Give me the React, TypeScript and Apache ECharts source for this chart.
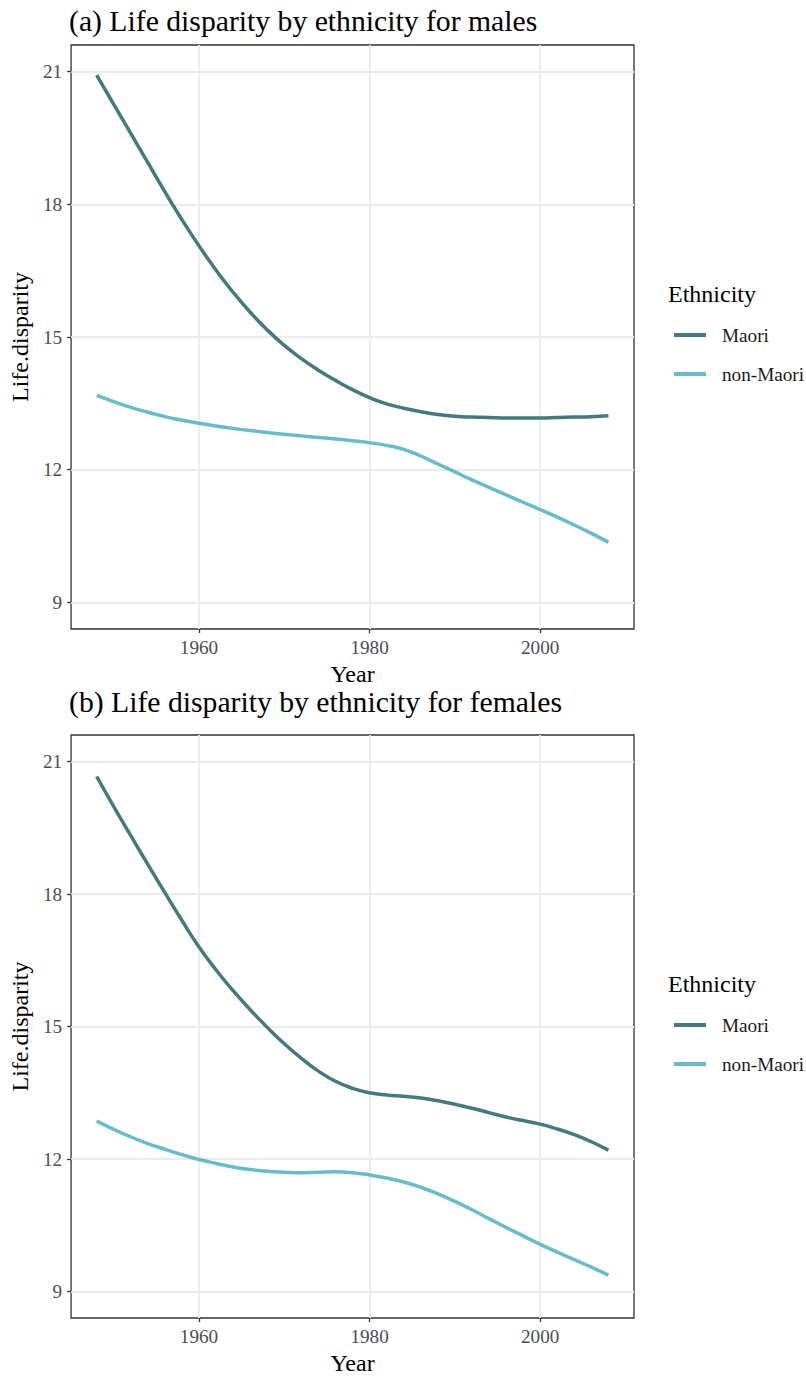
import React, { useEffect, useRef } from "react";
import * as echarts from "echarts";

const years = [
  1948, 1950, 1952, 1954, 1956, 1958, 1960, 1962, 1964, 1966, 1968, 1970, 1972, 1974, 1976, 1978,
  1980, 1982, 1984, 1986, 1988, 1990, 1992, 1994, 1996, 1998, 2000, 2002, 2004, 2006, 2008,
];

const malesMaori = [
  20.92, 20.26, 19.6, 18.94, 18.28, 17.65, 17.06, 16.51, 16.01, 15.56, 15.16, 14.81, 14.51, 14.25,
  14.02, 13.81, 13.63, 13.49, 13.39, 13.31, 13.25, 13.21, 13.19, 13.18, 13.17, 13.17, 13.17, 13.18,
  13.19, 13.2, 13.22,
];
const malesNonMaori = [
  13.68, 13.54, 13.41, 13.3, 13.2, 13.12, 13.05, 12.99, 12.935, 12.885, 12.84, 12.8, 12.765, 12.73,
  12.695, 12.655, 12.61, 12.55, 12.46, 12.31, 12.13, 11.95, 11.77, 11.6, 11.43, 11.265, 11.1, 10.93,
  10.75, 10.56, 10.365,
];
const femalesMaori = [
  20.66, 19.98, 19.32, 18.67, 18.03, 17.4, 16.8, 16.28, 15.81, 15.38, 14.98, 14.61, 14.28, 13.99,
  13.76, 13.6, 13.5, 13.45, 13.42, 13.38, 13.32, 13.24, 13.15, 13.05, 12.95, 12.87, 12.79, 12.68,
  12.55, 12.39, 12.2,
];
const femalesNonMaori = [
  12.86, 12.67, 12.5, 12.35, 12.22, 12.1, 11.99, 11.9, 11.82, 11.76, 11.72, 11.7, 11.69, 11.7,
  11.71, 11.69, 11.64, 11.57, 11.48, 11.36, 11.21, 11.04, 10.85, 10.65, 10.45, 10.26, 10.07, 9.89,
  9.72, 9.55, 9.37,
];

const xTicks = [1960, 1980, 2000];
const yTicks = [9, 12, 15, 18, 21];
const seriesNames = ["Maori", "non-Maori"];
const seriesColors = ["#437a7d", "#66bdc9"];
const panelTitles = [
  "(a) Life disparity by ethnicity for males",
  "(b) Life disparity by ethnicity for females",
];
const legendTitle = "Ethnicity";
const xTitle = "Year";
const yTitle = "Life.disparity";

export default function App() {
  const ref = useRef<HTMLDivElement>(null);

  useEffect(() => {
    if (!ref.current) return;
    const chart = echarts.init(ref.current, null, { renderer: "svg" });
    const font = "'Liberation Serif', 'Times New Roman', Times, serif";
    const panelTops = [45, 735];
    const panelData = [
      [malesMaori, malesNonMaori],
      [femalesMaori, femalesNonMaori],
    ];

    const grid = panelTops.map((top) => ({
      left: 70,
      top,
      width: 564,
      height: 584,
      show: true,
      borderColor: "#333333",
      borderWidth: 1.3,
      backgroundColor: "#ffffff",
      containLabel: false,
    }));

    const xAxis = panelTops.map((_, i) => ({
      type: "value",
      gridIndex: i,
      min: 1945,
      max: 2011,
      name: xTitle,
      nameLocation: "middle",
      nameGap: 33,
      nameTextStyle: { fontFamily: font, fontSize: 24, color: "#000000" },
      axisLine: { show: false },
      axisTick: {
        show: true,
        customValues: xTicks,
        length: 4,
        lineStyle: { color: "#333333", width: 1.3 },
      },
      axisLabel: {
        customValues: xTicks,
        margin: 9,
        fontFamily: font,
        fontSize: 19.2,
        color: "#4d4d4d",
        formatter: (v: number) => String(v),
      },
      splitLine: { show: true, lineStyle: { color: "#ebebeb", width: 1.8 } },
    }));

    const yAxis = panelTops.map((_, i) => ({
      type: "value",
      gridIndex: i,
      min: 8.4,
      max: 21.6,
      name: yTitle,
      nameLocation: "middle",
      nameGap: 36,
      nameRotate: 90,
      nameTextStyle: { fontFamily: font, fontSize: 24, color: "#000000" },
      axisLine: { show: false },
      axisTick: {
        show: true,
        customValues: yTicks,
        length: 4,
        lineStyle: { color: "#333333", width: 1.3 },
      },
      axisLabel: {
        customValues: yTicks,
        margin: 9,
        fontFamily: font,
        fontSize: 19.2,
        color: "#4d4d4d",
        formatter: (v: number) => String(v),
      },
      splitLine: { show: true, lineStyle: { color: "#ebebeb", width: 1.8 } },
    }));

    const series: any[] = [];
    panelData.forEach((pair, p) => {
      pair.forEach((vals, k) => {
        series.push({
          type: "line",
          name: seriesNames[k],
          xAxisIndex: p,
          yAxisIndex: p,
          data: years.map((y, j) => [y, vals[j]]),
          color: seriesColors[k],
          showSymbol: false,
          symbol: "none",
          smooth: true,
          lineStyle: { width: 3.5, color: seriesColors[k] },
          z: 3,
        });
      });
    });

    const title: any[] = panelTitles.map((t, i) => ({
      text: t,
      left: 69,
      top: i === 0 ? 4 : 685,
      padding: 0,
      textStyle: {
        fontFamily: font,
        fontSize: 29.7,
        fontWeight: "normal",
        color: "#000000",
        lineHeight: 34,
      },
    }));
    [280, 970].forEach((top) =>
      title.push({
        text: legendTitle,
        left: 668,
        top,
        padding: 0,
        textStyle: {
          fontFamily: font,
          fontSize: 24,
          fontWeight: "normal",
          color: "#000000",
          lineHeight: 28,
        },
      })
    );

    const legend = [324, 1014].map((top) => ({
      left: 674,
      top,
      orient: "vertical",
      padding: 0,
      icon: "rect",
      itemWidth: 32,
      itemHeight: 4,
      itemGap: 17,
      selectedMode: false,
      data: seriesNames,
      textStyle: {
        fontFamily: font,
        fontSize: 19.2,
        color: "#1a1a1a",
        lineHeight: 22,
        padding: [0, 0, 0, 11],
      },
    }));

    chart.setOption({
      animation: false,
      backgroundColor: "#ffffff",
      title,
      legend,
      grid,
      xAxis,
      yAxis,
      series,
    } as any);

    return () => chart.dispose();
  }, []);

  return (
    <div
      ref={ref}
      style={{ position: "absolute", left: 0, top: 0, width: 806, height: 1376 }}
    />
  );
}
